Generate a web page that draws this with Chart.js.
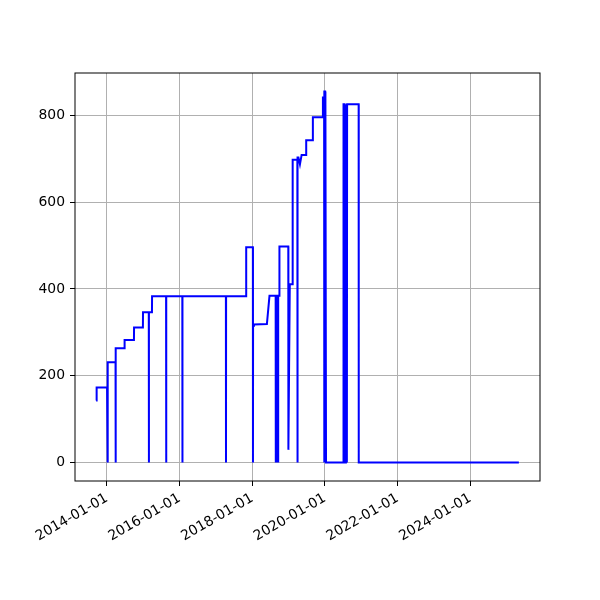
<!DOCTYPE html>
<html>
<head>
<meta charset="utf-8">
<script src="https://cdn.jsdelivr.net/npm/chart.js@4"></script>
<style>
  body { margin: 0; background: #fff; }
</style>
</head>
<body>
<canvas id="chart" width="600" height="600"></canvas>
<script>
// 📅 sample dates and values
const dates = [
  '2013-09-15', '2013-09-20', '2014-01-03', '2014-01-04', '2014-01-10', '2014-01-11', '2014-01-12',
  '2014-03-29', '2014-03-30', '2014-03-31', '2014-06-27', '2014-06-28', '2014-09-30', '2014-10-01',
  '2014-12-29', '2014-12-30', '2015-02-26', '2015-02-27', '2015-02-28', '2015-03-30', '2015-03-31',
  '2015-08-19', '2015-08-20', '2015-08-21', '2016-01-29', '2016-01-30', '2016-01-31',
  '2017-04-11', '2017-04-12', '2017-04-13', '2017-10-31', '2017-11-01',
  '2018-01-07', '2018-01-08', '2018-01-09', '2018-01-18', '2018-05-28', '2018-06-23',
  '2018-08-24', '2018-08-25', '2018-08-26', '2018-09-01', '2018-09-02', '2018-09-03',
  '2018-09-09', '2018-09-10', '2018-09-11', '2018-09-17', '2018-09-18', '2018-09-19',
  '2018-09-30', '2018-10-01', '2018-12-29', '2018-12-30', '2019-01-13',
  '2019-02-10', '2019-02-11', '2019-03-30', '2019-03-31', '2019-04-02',
  '2019-04-10', '2019-04-25', '2019-05-12', '2019-06-26', '2019-06-27',
  '2019-09-01', '2019-09-02', '2019-12-11', '2019-12-12', '2019-12-24', '2019-12-25',
  '2019-12-27', '2020-01-03', '2020-01-04', '2020-01-08', '2020-01-12',
  '2020-07-05', '2020-07-06', '2020-07-16', '2020-07-17', '2020-07-30', '2020-07-31',
  '2020-08-08', '2020-08-09', '2020-08-11', '2020-12-05', '2020-12-06', '2025-05-03'
];
const values = [
  143, 173, 173, 231, 231, 0, 231,
  231, 0, 263, 263, 282, 282, 311,
  311, 346, 346, 0, 346, 346, 383,
  383, 0, 383, 383, 0, 383,
  383, 0, 383, 383, 496,
  496, 0, 315, 318, 319, 384,
  384, 0, 384, 384, 0, 384,
  384, 0, 384, 384, 0, 384,
  384, 498, 498, 29, 411,
  411, 698, 698, 0, 703,
  703, 687, 709, 709, 743,
  743, 796, 796, 841, 841, 0,
  855, 855, 0, 841, 0,
  0, 826, 826, 0, 0, 826,
  826, 0, 826, 826, 0, 0
];
const xTickYears = [2014, 2016, 2018, 2020, 2022, 2024];
const yTicks = [0, 200, 400, 600, 800];

const points = dates.map((d, i) => ({ x: Date.parse(d), y: values[i] }));

// matplotlib-style 5% margins
const xs = points.map(p => p.x);
const xMin = Math.min(...xs), xMax = Math.max(...xs);
const yMin = Math.min(...values), yMax = Math.max(...values);
const xPad = (xMax - xMin) * 0.05;
const yPad = (yMax - yMin) * 0.05;

// 🖼️ frame around the plot area
const frame = {
  id: 'frame',
  afterDraw(chart) {
    const { ctx, chartArea: a } = chart;
    ctx.save();
    ctx.strokeStyle = '#000';
    ctx.lineWidth = 1;
    ctx.strokeRect(a.left, a.top, a.right - a.left, a.bottom - a.top);
    ctx.restore();
  }
};

const font = { family: '"DejaVu Sans", sans-serif', size: 13.9 };

new Chart(document.getElementById('chart').getContext('2d'), {
  type: 'line',
  data: {
    datasets: [{
      data: points,
      borderColor: '#0000ff',
      borderWidth: 2,
      pointRadius: 0,
      tension: 0,
      fill: false
    }]
  },
  options: {
    responsive: false,
    animation: false,
    devicePixelRatio: 1,
    layout: { padding: { top: 73, right: 60, left: 0, bottom: 0 } },
    plugins: { legend: { display: false }, tooltip: { enabled: false } },
    scales: {
      x: {
        type: 'linear',
        min: xMin - xPad,
        max: xMax + xPad,
        afterBuildTicks: s => { s.ticks = xTickYears.map(y => ({ value: Date.UTC(y, 0, 1) })); },
        afterFit: s => { s.height = 119; },
        grid: { color: '#b0b0b0', tickColor: '#000', tickLength: 5, lineWidth: 1 },
        border: { display: false },
        ticks: {
          autoSkip: false,
          minRotation: 30,
          maxRotation: 30,
          padding: 4,
          color: '#000',
          font,
          callback: v => new Date(v).toISOString().slice(0, 10)
        }
      },
      y: {
        min: yMin - yPad,
        max: yMax + yPad,
        afterBuildTicks: s => { s.ticks = yTicks.map(v => ({ value: v })); },
        afterFit: s => { s.width = 75; },
        grid: { color: '#b0b0b0', tickColor: '#000', tickLength: 5, lineWidth: 1 },
        border: { display: false },
        ticks: { padding: 5, color: '#000', font }
      }
    }
  },
  plugins: [frame]
});
</script>
</body>
</html>
